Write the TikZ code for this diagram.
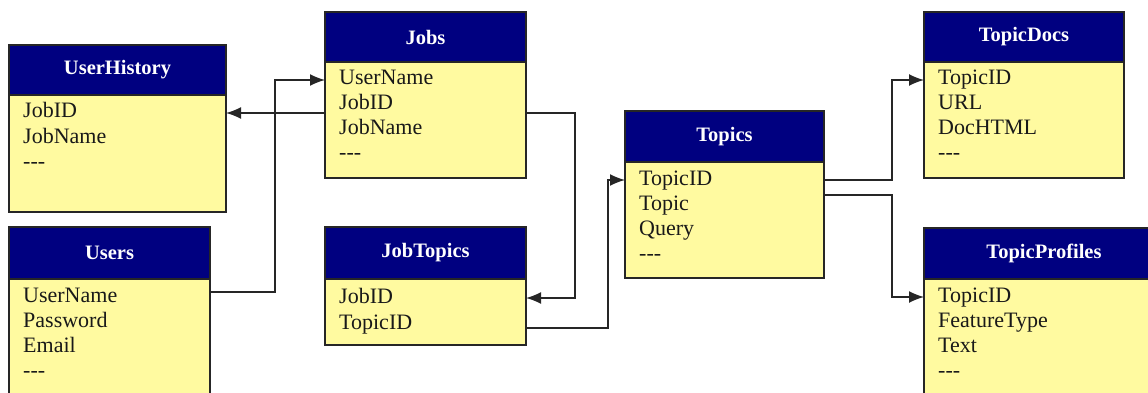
\documentclass[tikz,border=0pt]{standalone}
\usepackage{fontspec}
\setmainfont{Liberation Serif}
\usetikzlibrary{positioning,calc,arrows.meta}
\definecolor{hdrblue}{RGB}{0,0,128}
\definecolor{rowyellow}{RGB}{255,250,160}
\newcommand\dashes{-\kern0pt-\kern0pt-}

\begin{document}
\begin{tikzpicture}[x=1pt,y=-1pt,
      head/.style={rectangle,draw=black!85,line width=1.5pt,fill=hdrblue,text=white,outer sep=0pt,anchor=north west,font=\fontsize{20.5}{24}\selectfont\bfseries},
      body/.style={rectangle,draw=black!85,line width=1.5pt,fill=rowyellow,outer sep=0pt,inner sep=0pt},
      field/.style={anchor=west,inner sep=0pt,text height=15pt,text depth=5pt,text=black!90,font=\fontsize{22}{25}\selectfont},
      arr/.style={-{Latex[length=15pt,width=12pt]},line width=1.5pt,draw=black!85}]
      \useasboundingbox (0,0) rectangle (1148,393);
      % tables
      \node[head,minimum width=217,minimum height=50] (uh) at (9,45) {UserHistory};
      \node[body,minimum width=217,minimum height=117,below=0pt of uh] (uhb) {};
      \node[head,minimum width=201,minimum height=52] (users) at (9,227) {Users};
      \node[body,minimum width=201,minimum height=150,below=0pt of users] (usersb) {};
      \node[head,minimum width=201,minimum height=50] (jobs) at (325,12) {Jobs};
      \node[body,minimum width=201,minimum height=116,below=0pt of jobs] (jobsb) {};
      \node[head,minimum width=201,minimum height=52] (jt) at (325,227) {JobTopics};
      \node[body,minimum width=201,minimum height=66,below=0pt of jt] (jtb) {};
      \node[head,minimum width=199,minimum height=51] (tp) at (625,111) {Topics};
      \node[body,minimum width=199,minimum height=116,below=0pt of tp] (tpb) {};
      \node[head,minimum width=200,minimum height=50] (td) at (924,12) {TopicDocs};
      \node[body,minimum width=200,minimum height=116,below=0pt of td] (tdb) {};
      \node[head,minimum width=240,minimum height=51,text width=200,align=center] (tpr) at (924,228) {TopicProfiles};
      \node[body,minimum width=240,minimum height=150,below=0pt of tpr] (tprb) {};
      % fields
      \foreach \f [count=\i] in {JobID,JobName,\dashes}
        \node[field] (uh\i) at ($(uhb.north west)+(14,-7+25*\i)$) {\f};
      \foreach \f [count=\i] in {UserName,Password,Email,\dashes}
        \node[field] (users\i) at ($(usersb.north west)+(14,-7+25*\i)$) {\f};
      \foreach \f [count=\i] in {UserName,JobID,JobName,\dashes}
        \node[field] (jobs\i) at ($(jobsb.north west)+(14,-7+25*\i)$) {\f};
      \foreach \f [count=\i] in {JobID,TopicID}
        \node[field] (jt\i) at ($(jtb.north west)+(14,-7+26*\i)$) {\f};
      \foreach \f [count=\i] in {TopicID,Topic,Query,\dashes}
        \node[field] (tp\i) at ($(tpb.north west)+(14,-7+25*\i)$) {\f};
      \foreach \f [count=\i] in {TopicID,URL,DocHTML,\dashes}
        \node[field] (td\i) at ($(tdb.north west)+(14,-7+25*\i)$) {\f};
      \foreach \f [count=\i] in {TopicID,FeatureType,Text,\dashes}
        \node[field] (tpr\i) at ($(tprb.north west)+(14,-7+25*\i)$) {\f};
      % links
      \draw[arr] ($(users1.west -| usersb.east)+(0,-5)$) -- ++(65,0) |- (jobs1.west -| jobsb.west);
      \draw[arr] (uh1.west -| jobsb.west) -- (uh1.west -| uhb.east);
      \draw[arr] (uh1.west -| jobsb.east) -- ++(49,0) |- (jt1.west -| jtb.east);
      \draw[arr] ($(jt2.west -| jtb.east)+(0,4)$) -- ++(82,0) |- (tp1.west -| tpb.west);
      \draw[arr] (tp1.west -| tpb.east) -- ++(68,0) |- (td1.west -| tdb.west);
      \draw[arr] ($(tp2.west -| tpb.east)+(0,-10)$) -- ++(68,0) |- (tpr1.west -| tprb.west);
    \end{tikzpicture}
\end{document}
